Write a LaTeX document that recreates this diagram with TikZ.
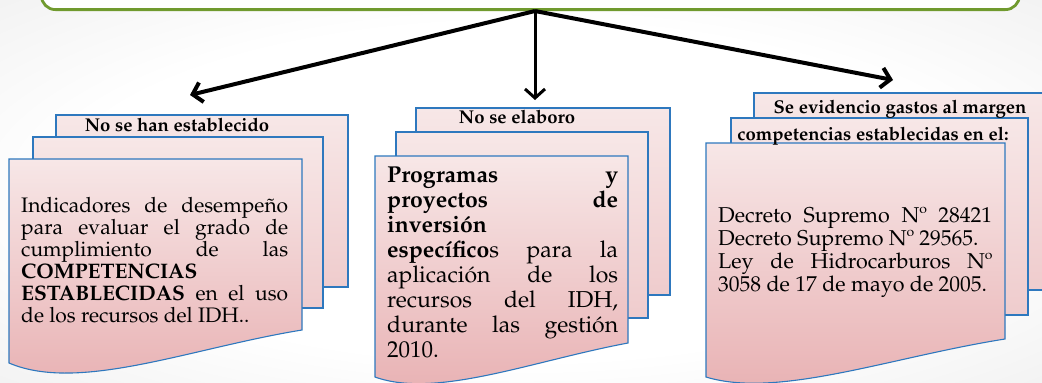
\documentclass[tikz,border=0pt]{standalone}
\usepackage[T1]{fontenc}
\renewcommand{\rmdefault}{ppl}
\usetikzlibrary{arrows.meta}
\definecolor{pageblue}{RGB}{46,120,190}
\definecolor{pinktop}{RGB}{247,231,231}
\definecolor{pinkmid}{RGB}{239,204,205}
\definecolor{pinkbot}{RGB}{232,176,178}
\definecolor{framegreen}{RGB}{112,154,46}
\pgfdeclareradialshading{slidebg}{\pgfpoint{0bp}{0bp}}{color(0bp)=(white);color(22bp)=(white);color(50bp)=(black!10);color(72bp)=(black!20)}
\tikzset{
  backpage/.style={draw=pageblue,line width=1.1pt,top color=pinktop,bottom color=pinkmid},
  frontpage/.style={draw=pageblue,line width=1.1pt,top color=pinktop,bottom color=pinkbot},
  headtext/.style={font=\fontsize{18.5}{20}\selectfont\bfseries,inner sep=0pt},
  bodytext/.style={anchor=north west,inner sep=0pt,align=justify},
  branch/.style={line width=4pt,-{Straight Barb[length=9pt,width=20pt]}},
}
\AtBeginDocument{\lineskiplimit=-20pt}
\begin{document}
\begin{tikzpicture}[x=1pt,y=-1pt]
\useasboundingbox(0,0)rectangle(1042,383);
\shade[shading=slidebg](0,0)rectangle(1042,383);
% top frame, cut by the page edge
\node[draw=framegreen,line width=2.8pt,fill=white,rounded corners=14pt,minimum width=978pt,minimum height=60pt,anchor=south west](frame)at(40,11){};
\coordinate(apex)at(535,11);
\coordinate(tipL)at(190,95);
\coordinate(tipM)at(535,100);
\coordinate(tipR)at(893,80);
\draw[branch](apex)--(tipL);
\draw[branch,line width=3pt](apex)--(tipM);
\draw[branch](apex)--(tipR);

% left stack
\draw[backpage](56,115)rectangle(348,287);
\draw[backpage](33,137)rectangle(323,308);
\draw[frontpage](9,159)--(302,159)--(302,330)..controls(191,348)and(79,393)..(9,363)--cycle;
% middle stack
\draw[backpage](416,108)rectangle(670,295);
\draw[backpage](396,132)rectangle(648,318);
\draw[frontpage](375,156)--(628,156)--(628,343)..controls(532,361)and(436,399)..(375,377)--cycle;
% right stack
\draw[backpage](754,93)rectangle(1060,290);
\draw[backpage](731,118)rectangle(1028,315);
\draw[frontpage](706,143)--(1005,143)--(1005,339)..controls(891,357)and(778,399)..(706,377)--cycle;

\node[headtext](h1)at(177,125){No se han establecido};
\node[headtext](h2)at(517,117){No se elaboro};
\node[headtext](h3)at(900,109){Se evidencio gastos al margen};
\node[headtext](h4)at(873,136){competencias establecidas en el:};

\node[bodytext,text width=267pt,font=\fontsize{21}{22}\selectfont](b1)at(21,197){Indicadores de desempe\~no\linebreak para evaluar el grado de\linebreak cumplimiento de las\linebreak \textbf{COMPETENCIAS}\newline \textbf{ESTABLECIDAS} en el uso\linebreak de los recursos del IDH..};
\node[bodytext,text width=231pt,font=\fontsize{23}{25}\selectfont](b2)at(387,167){\textbf{Programas y}\linebreak \textbf{proyectos de}\linebreak \textbf{inversi\'on}\newline \textbf{espec\'ifico}s para la\linebreak aplicaci\'on de los\linebreak recursos del IDH,\linebreak durante las gesti\'on\linebreak 2010.};
\node[bodytext,text width=274pt,font=\fontsize{21.5}{23}\selectfont](b3)at(718,207){Decreto Supremo N\textordmasculine{} 28421\linebreak Decreto Supremo N\textordmasculine{} 29565.\newline Ley de Hidrocarburos N\textordmasculine\linebreak 3058 de 17 de mayo de 2005.};
\end{tikzpicture}
\end{document}
